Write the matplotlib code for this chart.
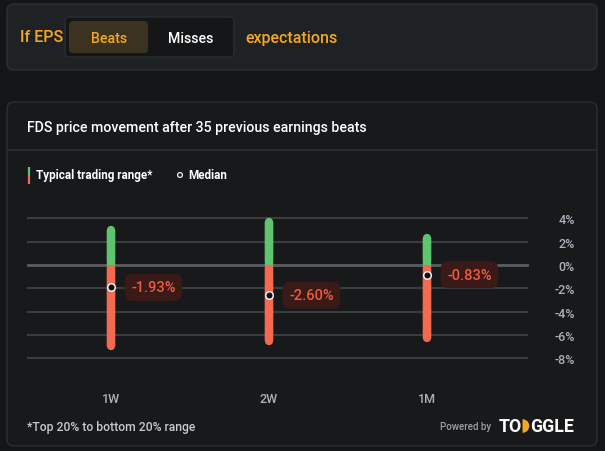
import matplotlib.pyplot as plt
from matplotlib.patches import FancyBboxPatch, Wedge, Circle

# data
periods = ["1W", "2W", "1M"]
range_high = [3.0, 3.65, 2.35]
range_low = [-6.95, -6.5, -6.25]
medians = [-1.93, -2.60, -0.83]
y_ticks = [4, 2, 0, -2, -4, -6, -8]

BG = "#141517"
PANEL = "#18191b"
ORANGE = "#f5a623"
GREEN = "#5fc46f"
RED = "#f26a4f"

plt.rcParams['font.family'] = ['Roboto', 'DejaVu Sans']
plt.rcParams['font.weight'] = 'medium'

W, H = 605, 452
fig = plt.figure(figsize=(W / 100, H / 100), dpi=100, facecolor=BG)

# background layer in pixel coordinates
bg = fig.add_axes([0, 0, 1, 1])
bg.set_xlim(0, W)
bg.set_ylim(H, 0)
bg.axis('off')


def box(x0, y0, x1, y1, fc, ec, r=6, lw=1.0):
    p = FancyBboxPatch((x0 + r, y0 + r), x1 - x0 - 2 * r, y1 - y0 - 2 * r,
                       boxstyle=f"round,pad={r}", fc=fc, ec=ec, lw=lw)
    bg.add_patch(p)


# top selector panel
box(7, 5, 597, 71, "#1f2224", "#2e3134", r=7)
box(65, 18, 234, 58, "#151618", "#2b2e31", r=4)
box(69, 22, 148, 54, "#3b3220", "none", r=4)
bg.text(20, 38, "If EPS", color=ORANGE, fontsize=11.5, va='center', ha='left')
bg.text(109, 39, "Beats", color=ORANGE, fontsize=10.2, va='center', ha='center')
bg.text(191, 39, "Misses", color="white", fontsize=10.2, va='center', ha='center')
bg.text(245, 38, "expectations", color=ORANGE, fontsize=11.5, va='center', ha='left')

# chart panel
box(7, 103, 597, 447, PANEL, "#2c2e31", r=7)
bg.plot([8, 596], [151, 151], color="#2c2e31", lw=1.2)
bg.text(27, 128, "FDS price movement after 35 previous earnings beats",
        color="white", fontsize=10.2, va='center', ha='left')

# legend
bg.plot([28.5, 28.5], [168, 176], color=GREEN, lw=1.6, solid_capstyle='butt')
bg.plot([28.5, 28.5], [176, 185], color=RED, lw=1.6, solid_capstyle='butt')
bg.text(36, 176, "Typical trading range*", color="white", fontsize=8.4,
        va='center', ha='left', fontweight='bold')
bg.add_patch(Circle((180, 176), 2.4, fc=PANEL, ec="#dddddd", lw=1.0))
bg.text(188, 176, "Median", color="white", fontsize=8.4, va='center',
        ha='left', fontweight='bold')

# footer
bg.text(27, 428, "*Top 20% to bottom 20% range", color="#c6cbd0",
        fontsize=8.7, va='center', ha='left')
bg.text(491, 427, "Powered by", color="#9aa0a6", fontsize=7, va='center', ha='right')
bg.text(499, 427, "TO", color="white", fontsize=12.8, va='center', ha='left',
        fontweight='bold')
bg.add_patch(Wedge((522.5, 427), 6.8, 270, 90, fc=ORANGE, ec='none'))
bg.text(530.5, 427, "GGLE", color="white", fontsize=12.8, va='center', ha='left',
        fontweight='bold')

# data axes: gridlines from x=28 to 527, 4% at y=219.3, -8% at y=359.3
left, right, top, bottom = 28, 527, 219.3, 359.3
ax = fig.add_axes([left / W, (H - bottom) / H, (right - left) / W, (bottom - top) / H])
ax.set_facecolor('none')
ax.set_ylim(-8, 4)
ax.set_xlim(-0.525, 2.633)
for s in ax.spines.values():
    s.set_visible(False)

for t in y_ticks:
    ax.axhline(t, color="#5a5e62" if t == 0 else "#3a3d40",
               lw=2.0 if t == 0 else 1.5, zorder=1, clip_on=False)

ax.yaxis.tick_right()
ax.set_yticks(y_ticks)
ax.set_yticklabels([f"{t}%" for t in y_ticks], color="#a9b1b9", fontsize=9,
                   ha='right')
ax.tick_params(axis='y', length=0, pad=34.5)
ax.set_xticks(range(len(periods)))
ax.set_xticklabels(periods, color="#a9b3bd", fontsize=9)
ax.tick_params(axis='x', length=0, pad=24)

bar_lw = 6.0  # points, about 8 px
cap = 4 / 11.67  # half bar width in data units


def segment(x, y_in, y_out, color):
    ax.plot([x, x], [y_in, y_out], color=color, lw=bar_lw,
            solid_capstyle='butt', zorder=3, clip_on=False)
    step = cap if y_out > y_in else -cap
    ax.plot([x, x], [y_in + step, y_out], color=color, lw=bar_lw,
            solid_capstyle='round', zorder=3, clip_on=False)


for i, p in enumerate(periods):
    segment(i, 0, range_high[i], GREEN)
    segment(i, 0, range_low[i], RED)
    ax.plot(i, medians[i], 'o', ms=5.4, mfc="#111111", mec="white", mew=1.0,
            zorder=5, clip_on=False)
    ax.annotate(f"{medians[i]:.2f}%", (i, medians[i]), xytext=(14.5, 0),
                textcoords='offset points', color="#f25a3f", fontsize=10.5,
                va='center', ha='left', zorder=4,
                bbox=dict(boxstyle="round,pad=0.45,rounding_size=0.55",
                          fc="#3a1a17", ec='none'))

fig.savefig("out.png", dpi=100, facecolor=BG)
